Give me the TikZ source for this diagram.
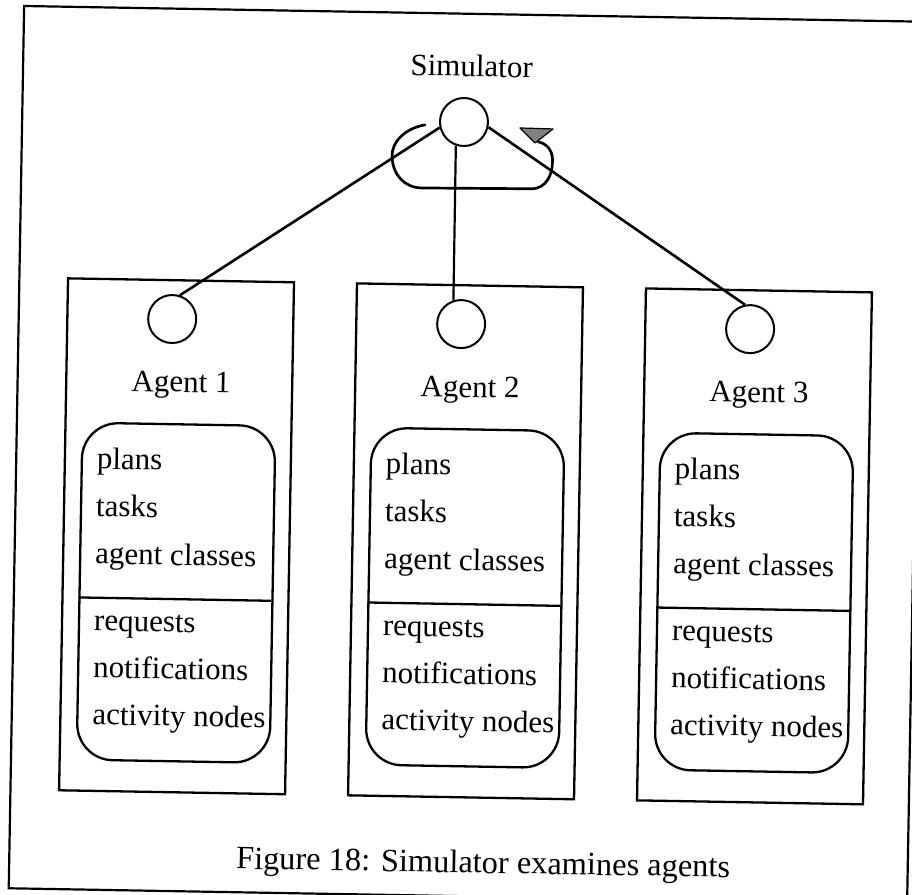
\documentclass[tikz,border=0pt]{standalone}
\usepackage{fontspec}
\setmainfont{Liberation Serif}
\begin{document}
\begin{tikzpicture}[x=1pt,y=-1pt,
  font=\fontsize{31}{37}\selectfont,
  frame/.style={draw, line width=2.2pt},
  agentbox/.style={draw, line width=2.3pt, inner sep=0pt, anchor=north west,
                   minimum width=226pt, minimum height=512pt},
  store/.style={draw, line width=2.3pt, rounded corners=36pt, inner sep=0pt,
                anchor=north west, minimum width=193pt, minimum height=337pt},
  port/.style={circle, draw, line width=2pt, minimum size=48pt, inner sep=0pt},
  caption/.style={anchor=base, inner sep=0pt},
  item/.style={anchor=base west, inner sep=0pt},
  link/.style={line width=2.6pt},
  loopline/.style={line width=2.7pt, line cap=round},
  tip/.style={fill=black!50, draw=black, line width=1.2pt, line join=round}]
\clip (0,0) rectangle (912,894);
\begin{scope}[rotate around={-1:(456,447)}, transform shape]

  % outer frame
  \draw[frame] (16.5,13.6) rectangle (915,896);

  % simulator
  \node[port] (sim) at (458.3,121.9) {};
  \node[caption] (simlabel) at (465,76.4) {Simulator};

  % the three agents
  \foreach \i/\L in {1/64,2/353,3/642}{
    \node[agentbox] (agent\i) at (\L,284) {};
    \node[port] (port\i) at ({\L+106},324) {};
    \node[caption] (label\i) at ({\L+116},397) {Agent \i};
    \node[store] (store\i) at ({\L+17},428) {};
    \draw[line width=2.3pt] ({\L+17},604) -- ({\L+210},604);
    \node[item] (plans\i)   at ({\L+33},475)   {plans};
    \node[item] (tasks\i)   at ({\L+33},522.5) {tasks};
    \node[item] (classes\i) at ({\L+33},570)   {agent classes};
    \node[item] (req\i)     at ({\L+33},637)   {requests};
    \node[item] (notif\i)   at ({\L+33},684)   {notifications};
    \node[item] (act\i)     at ({\L+33},731)   {activity nodes};
  }

  % connectors from the simulator to each agent
  \draw[link] (sim.194) -- (port1.73);
  \draw[link, line width=2.2pt] (sim.252) -- (port2.109);
  \draw[link] (sim.349) -- (port3.103);

  % cycle arrow round the simulator
  \coordinate (loopstart) at (419.4,125.5);
  \coordinate (loopend) at (533,140.5);
  \draw[loopline] (loopstart)
     .. controls (400,129) and (386,143) .. (387,158)
     .. controls (388,176) and (400,188.6) .. (417,188.6)
     -- (527,187.5)
     .. controls (542,187) and (548,173) .. (547.5,158)
     .. controls (547,148) and (541,142) .. (loopend);
  \draw[tip] (514.4,126.9) -- (547.5,127.3) -- (529.7,141.6) -- cycle;

  % caption
  \node[caption, font=\fontsize{32.4}{38}\selectfont] (figcap) at (490.4,872.5)
     {Figure 18: Simulator examines agents};
\end{scope}
\end{tikzpicture}
\end{document}
